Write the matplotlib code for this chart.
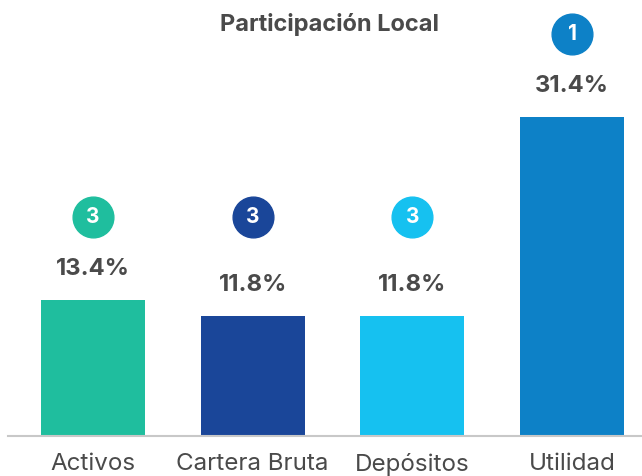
import matplotlib
matplotlib.use("Agg")
import matplotlib.pyplot as plt
import matplotlib.transforms as mtransforms

categories = ["Activos", "Cartera Bruta", "Depósitos", "Utilidad"]
values = [13.4, 11.8, 11.8, 31.4]
ranks = ["3", "3", "3", "1"]
badge_anchor = [13.4, 13.4, 13.4, 31.4]
colors = ["#1fbe9e", "#1a4699", "#16c1f0", "#0d81c7"]
title = "Participación Local"

plt.rcParams['font.family'] = ['Inter', 'DejaVu Sans']

fig = plt.figure(figsize=(6.42, 4.76), dpi=100)
ax = fig.add_axes([8/642, 40/476, 634/642, 436/476])
x = list(range(len(categories)))
ax.bar(x, values, width=0.65, color=colors)
ax.set_xlim(-0.53125, 3.4375)
ax.set_ylim(0, 436/10.17)

for sp in ["top", "right", "left"]:
    ax.spines[sp].set_visible(False)
ax.spines["bottom"].set_color("#c8c8c8")
ax.spines["bottom"].set_linewidth(1.5)
ax.set_yticks([])
ax.set_xticks(x)
ax.set_xticklabels(categories, fontsize=17.4, color="#4a4a4a")
ax.tick_params(axis="x", length=0, pad=12)

for xi, v, r, c, b in zip(x, values, ranks, colors, badge_anchor):
    t_pct = mtransforms.offset_copy(ax.transData, fig=fig, x=0, y=31, units="dots")
    ax.text(xi, v, f"{v:.1f}%", transform=t_pct, ha="center", va="center",
            fontsize=17.2, fontweight="bold", color="#4a4a4a")
    t_c = mtransforms.offset_copy(ax.transData, fig=fig, x=0, y=83, units="dots")
    ax.scatter([xi], [b], s=860, color=c, transform=t_c, clip_on=False, zorder=3)
    ax.text(xi, b, r, transform=t_c, ha="center", va="center",
            fontsize=15, fontweight="bold", color="white", zorder=4)

fig.text(330/642, 1 - 25/476, title, ha="center", va="center",
         fontsize=17, fontweight="bold", color="#4a4a4a")

fig.savefig("out.png", dpi=100)
